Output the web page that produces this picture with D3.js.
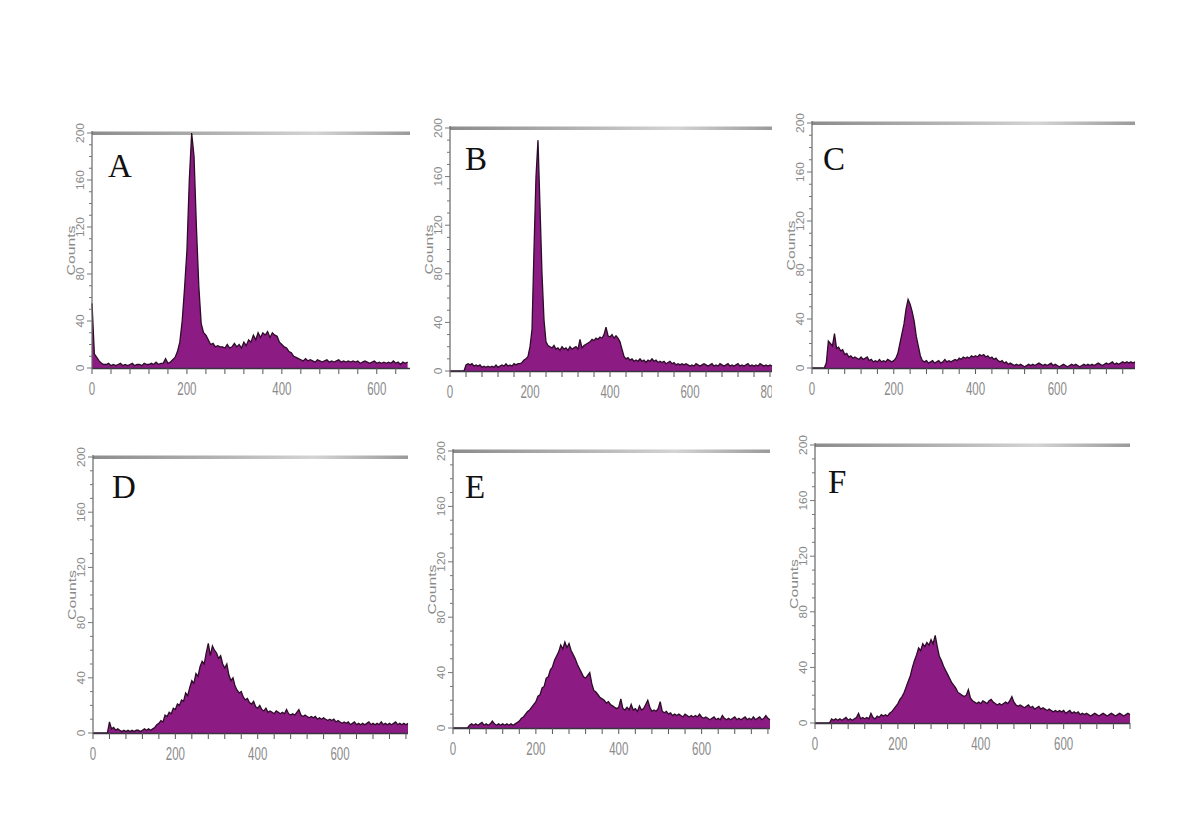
<!DOCTYPE html>
<html lang="en">
<head>
<meta charset="UTF-8">
<title>DNA content histograms A-F</title>
<script src="https://d3js.org/d3.v7.min.js"></script>
<style>
  body { margin: 0; background: #fff; }
  svg { display: block; }
  .ylab, .xlab, .axis-title { font-family: 'Liberation Sans', Arial, sans-serif; fill: #8a8a8a; }
  .letter { font-family: 'Liberation Serif', 'Times New Roman', serif; font-size: 33px; fill: #111; }
</style>
</head>
<body>
<div id="chart"></div>
<script>
// panel names and x range (channel) of each histogram
const labels = ["A", "B", "C", "D", "E", "F"];
const xMax = [670, 805, 790, 765, 765, 760];
const binWidth = 5;
const yTicks = [0, 40, 80, 120, 160, 200];
const xTickLabels = [0, 200, 400, 600, 800];

// counts per 5-channel bin
const countsA = [
  55,12,9,6,4,3,3,4,2,3, 2,3,4,2,3,2,3,4,2,3, 3,2,4,3,3,4,3,5,3,4,
  4,8,4,5,7,9,14,22,40,68, 100,160,200,180,120,70,38,30,28,24,
  20,21,18,19,18,18,17,20,17,18, 21,18,20,17,22,19,24,22,28,24,
  30,26,30,28,31,26,30,28,27,22, 20,18,17,14,13,10,9,8,7,6,
  8,6,7,6,5,7,6,5,6,7, 5,6,5,6,7,5,6,5,6,5, 6,5,6,4,5,6,5,4,5,6,
  4,5,4,5,4,5,4,6,4,5, 3,5,4,5
];
const countsB = [
  0,0,0,0,0,0,0,0,5,6, 5,6,4,5,4,5,3,4,3,4, 3,4,3,5,3,4,5,4,6,4,
  5,4,6,5,6,6,7,9,10,12, 20,34,100,160,190,135,80,42,24,21,
  20,19,21,18,19,17,20,18,19,17, 20,18,19,20,18,26,19,21,22,23,
  24,26,25,27,26,28,27,30,36,29, 28,30,27,29,27,24,18,12,10,11,
  9,10,8,9,8,10,8,9,7,9, 8,10,8,9,7,8,7,8,6,7, 8,6,7,5,6,5,6,5,6,5,
  4,5,4,6,5,4,5,6,5,4, 5,6,4,5,4,6,5,4,5,6, 4,5,4,5,6,4,5,4,5,6,
  4,5,4,5,4,6,5,4,5,4, 5,4
];
const countsC = [
  0,0,0,0,0,0,0,4,22,20, 18,28,16,17,14,15,11,12,9,10, 8,9,8,7,9,7,8,9,6,7,
  5,6,5,7,5,6,5,7,6,5, 6,8,12,20,28,36,48,56,52,46, 38,26,18,10,6,5,6,4,5,6,
  4,5,6,4,5,7,5,6,5,6, 7,6,8,7,9,8,9,8,10,9, 10,9,11,10,11,9,10,8,9,7,
  8,6,5,6,4,5,3,4,3,2, 3,2,3,2,1,2,3,2,3,2, 3,4,3,2,3,2,3,4,2,3,
  2,1,2,3,2,1,2,3,2,3, 2,1,2,3,2,3,2,3,2,3, 4,3,2,3,4,3,4,5,3,4,
  3,4,5,4,5,4,5,4,5
];
const countsD = [
  0,0,0,0,0,0,0,0,8,3, 4,2,3,2,1,2,1,2,1,2, 1,2,2,1,2,3,2,3,2,3,
  4,6,7,9,8,13,12,15,14,18, 17,21,20,24,23,29,27,33,38,36,
  43,41,48,52,50,58,65,56,63,60, 58,54,56,50,47,50,42,38,40,34,
  31,29,30,26,24,25,22,21,23,19, 18,20,17,16,18,15,16,15,14,16,
  15,14,15,14,17,14,13,14,13,15, 17,13,12,13,12,11,12,11,12,10,
  11,10,11,10,9,10,9,10,8,9, 8,7,8,7,8,6,7,8,6,7, 6,7,6,7,8,6,7,6,7,6,
  8,6,7,6,7,6,7,8,6,7, 6,7,6,7
];
const countsE = [
  0,0,0,0,0,0,0,0,2,3, 2,3,2,3,4,2,3,2,3,5, 3,2,3,2,3,2,3,2,3,2,
  3,4,5,7,8,10,12,13,15,17, 19,23,24,29,30,36,37,42,44,49,
  52,55,60,57,62,58,61,56,53,50, 46,43,40,37,36,38,40,32,27,26,
  24,22,21,20,18,19,17,16,15,14, 15,21,14,13,15,13,17,13,14,12,
  16,13,14,17,20,15,12,13,12,14, 19,12,11,12,10,11,9,10,9,10,
  9,8,10,9,8,9,8,9,8,10, 8,7,8,7,6,7,8,6,7,6, 9,7,6,7,6,7,8,6,7,6,
  7,8,6,7,6,8,6,7,8,6, 7,9,7,6
];
const countsF = [
  0,0,0,0,0,0,0,0,3,2, 3,2,3,2,3,4,2,3,2,3, 4,7,3,4,3,4,3,7,4,3,
  5,4,6,5,6,5,7,8,10,12, 14,17,19,22,26,30,34,40,45,49,
  54,52,57,55,58,56,60,57,63,55, 48,45,41,38,35,32,29,27,25,22,
  21,20,19,20,24,18,16,15,14,15, 14,16,15,14,16,17,15,14,13,14,
  13,14,15,14,16,19,15,13,12,13, 12,11,12,13,11,12,10,11,12,10,
  11,10,9,10,9,8,9,8,9,8, 9,7,8,9,7,8,7,8,6,7, 6,7,6,5,6,7,6,5,6,7,
  6,5,6,7,6,5,6,7,6,5, 6,7,6
];
const counts = [countsA, countsB, countsC, countsD, countsE, countsF];

// where each panel sits on the page
const boxes = [
  {x0: 92,  x1: 410,  yTop: 133, yBase: 368, lx: 108, ly: 177},
  {x0: 450, x1: 772,  yTop: 128, yBase: 371, lx: 465, ly: 170},
  {x0: 812, x1: 1135, yTop: 123, yBase: 368, lx: 823, ly: 170},
  {x0: 93,  x1: 408,  yTop: 457, yBase: 733, lx: 112, ly: 498},
  {x0: 453, x1: 770,  yTop: 451, yBase: 728, lx: 465, ly: 498},
  {x0: 815, x1: 1130, yTop: 445, yBase: 723, lx: 828, ly: 493}
];

const width = 1200, height = 838;
const svg = d3.select("#chart").append("svg")
    .attr("width", width)
    .attr("height", height);

const defs = svg.append("defs");
const grad = defs.append("linearGradient").attr("id", "topbar");
grad.append("stop").attr("offset", "0%").attr("stop-color", "#8c8c8c");
grad.append("stop").attr("offset", "45%").attr("stop-color", "#b8b8b8");
grad.append("stop").attr("offset", "70%").attr("stop-color", "#d4d4d4");
grad.append("stop").attr("offset", "100%").attr("stop-color", "#9a9a9a");

labels.forEach((name, i) => {
    const b = boxes[i];
    const x = d3.scaleLinear().domain([0, xMax[i]]).range([b.x0, b.x1]);
    const y = d3.scaleLinear().domain([0, 200]).range([b.yBase, b.yTop]);
    const pts = counts[i].map((c, k) => [k * binWidth, c]);

    const g = svg.append("g");

    // tick labels are cut at the panel's right edge (B shows only part of "800")
    defs.append("clipPath").attr("id", "clip" + i)
      .append("rect")
        .attr("x", b.x0 - 60).attr("y", b.yTop - 30)
        .attr("width", b.x1 - b.x0 + 60).attr("height", b.yBase - b.yTop + 70);

    // top bar at 200
    g.append("rect")
        .attr("x", b.x0).attr("y", y(200) - 1.5)
        .attr("width", b.x1 - b.x0).attr("height", 3.5)
        .attr("fill", "url(#topbar)");

    // histogram
    const area = d3.area()
        .x(d => x(d[0]))
        .y0(y(0))
        .y1(d => y(d[1]));
    const line = d3.line()
        .x(d => x(d[0]))
        .y(d => y(d[1]));

    g.append("path")
        .datum(pts)
        .attr("d", area)
        .attr("fill", "#8d1b84");
    g.append("path")
        .datum(pts)
        .attr("d", line)
        .attr("fill", "none")
        .attr("stroke", "#2c0d28")
        .attr("stroke-width", 1.3);

    // baseline and x ticks
    g.append("line")
        .attr("x1", b.x0).attr("x2", b.x1)
        .attr("y1", y(0) + 0.5).attr("y2", y(0) + 0.5)
        .attr("stroke", "#3a3340").attr("stroke-width", 1.5);
    g.selectAll(".xt")
      .data(d3.range(0, xMax[i] + 1, 40))
      .join("line")
        .attr("x1", d => x(d)).attr("x2", d => x(d))
        .attr("y1", y(0)).attr("y2", y(0) + 6)
        .attr("stroke", "#555").attr("stroke-width", 1);

    // y axis with minor ticks
    g.append("line")
        .attr("x1", b.x0).attr("x2", b.x0)
        .attr("y1", y(200) - 2).attr("y2", y(0) + 1)
        .attr("stroke", "#666").attr("stroke-width", 1.2);
    g.selectAll(".yt")
      .data(d3.range(0, 201, 10))
      .join("line")
        .attr("x1", d => b.x0 - (d % 40 === 0 ? 5 : 3)).attr("x2", b.x0)
        .attr("y1", d => y(d)).attr("y2", d => y(d))
        .attr("stroke", "#777").attr("stroke-width", 1);

    g.selectAll(".ylab")
      .data(yTicks)
      .join("text")
        .attr("class", "ylab")
        .attr("transform", d => `translate(${b.x0 - 8},${y(d)}) rotate(-90)`)
        .attr("text-anchor", "middle")
        .attr("font-size", 11)
        .attr("textLength", d => String(d).length * 6.6)
        .attr("lengthAdjust", "spacingAndGlyphs")
        .text(d => d);

    g.append("text")
        .attr("class", "axis-title")
        .attr("transform", `translate(${b.x0 - 17},${y(100)}) rotate(-90)`)
        .attr("text-anchor", "middle")
        .attr("font-size", 11)
        .attr("textLength", 50)
        .attr("lengthAdjust", "spacingAndGlyphs")
        .text("Counts");

    g.append("g").attr("clip-path", `url(#clip${i})`)
      .selectAll(".xlab")
      .data(xTickLabels.filter(d => d <= xMax[i]))
      .join("text")
        .attr("class", "xlab")
        .attr("x", d => x(d))
        .attr("y", y(0) + 27)
        .attr("text-anchor", "middle")
        .attr("font-size", 18)
        .attr("textLength", d => String(d).length * 6.4)
        .attr("lengthAdjust", "spacingAndGlyphs")
        .text(d => d);

    g.append("text")
        .attr("class", "letter")
        .attr("x", b.lx).attr("y", b.ly)
        .text(name);
});
</script>
</body>
</html>
